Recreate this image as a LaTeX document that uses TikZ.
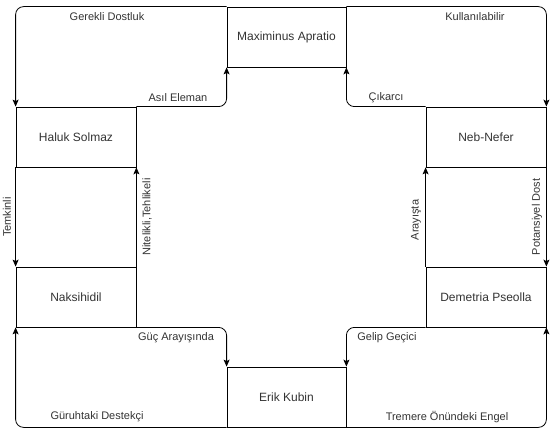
\documentclass[tikz,border=0pt]{standalone}
\usepackage{fontspec}
\setmainfont{Liberation Sans}
\usetikzlibrary{positioning, arrows.meta}

\begin{document}
\begin{tikzpicture}[
      % GLOBAL CFG
      x=1pt, y=-1pt,
      font=\fontsize{12}{14}\selectfont,
      >={Stealth[length=7pt,width=6pt,inset=1.5pt]},
      % Styles
      person/.style={% For characters
        rectangle,
        draw,
        line width=0.8pt,
        minimum width=120pt,
        minimum height=60pt,
        inner sep=0pt,
        text=black!80
      },
      tag/.style={% For edge labels
        font=\fontsize{11}{13}\selectfont,
        inner sep=0pt,
        text=black!80
      },
      relation/.style={% Arrows between characters
        rounded corners=8pt,
        line width=0.8pt,
        ->,
      }
      ]

      \useasboundingbox (0,0) rectangle (555,436);

      % Draw the characters:
      \node [person, minimum width=119pt] (maximinus) at (286.5,37) {Maximinus Apratio};
      \node [person] (haluk) at (76,137) {Haluk Solmaz};
      \node [person] (naksihidil) at (76,297) {Naksihidil};
      \node [person] (nebnefer) at (486,137) {Neb-Nefer};
      \node [person] (demetria) at (486,297) {Demetria Pseolla};
      \node [person, minimum width=119pt] (erik) at (286.5,397) {Erik Kubin};

      % Top corner loops
      \draw [relation] (maximinus.north west) -| (haluk.north west);
      \node [tag] (gerekli) at (107,17) {Gerekli Dostluk};
      \draw [relation] (haluk.north east) -| (maximinus.south west);
      \node [tag] (asil) at (178,98) {Asıl Eleman};

      \draw [relation] (maximinus.north east) -| (nebnefer.north east);
      \node [tag] (kullanilabilir) at (475,17) {Kullanılabilir};
      \draw [relation] (nebnefer.north west) -| (maximinus.south east);
      \node [tag] (cikarci) at (386,98) {Çıkarcı};

      % Side links
      \draw [relation] (haluk.south west) -- (naksihidil.north west);
      \node [tag, rotate=90] (temkinli) at (7,217) {Temkinli};
      \draw [relation] (naksihidil.north east) -- (haluk.south east);
      \node [tag, rotate=90] (nitelikli) at (147,217) {Nitelikli,Tehlikeli};

      \draw [relation] (demetria.north west) -- (nebnefer.south west);
      \node [tag, rotate=90] (arayista) at (416,220) {Arayışta};
      \draw [relation] (nebnefer.south east) -- (demetria.north east);
      \node [tag, rotate=90] (potansiyel) at (537,217) {Potansiyel Dost};

      % Bottom corner loops
      \draw [relation] (naksihidil.south east) -| (erik.north west);
      \node [tag] (guc) at (176,338) {Güç Arayışında};
      \draw [relation] (erik.south west) -| (naksihidil.south west);
      \node [tag] (guruhtaki) at (97,417) {Güruhtaki Destekçi};

      \draw [relation] (demetria.south west) -| (erik.north east);
      \node [tag] (gelip) at (387,338) {Gelip Geçici};
      \draw [relation] (erik.south east) -| (demetria.south east);
      \node [tag] (tremere) at (447,417) {Tremere Önündeki Engel};

    \end{tikzpicture}
\end{document}
